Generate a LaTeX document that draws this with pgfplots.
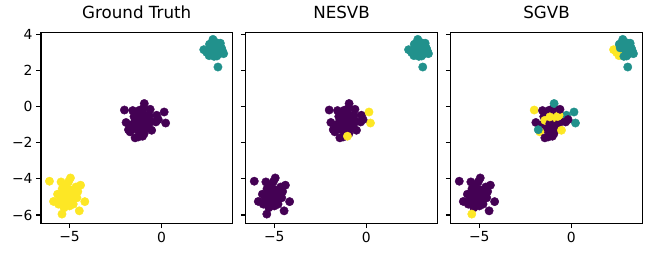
\documentclass[border=0pt]{standalone}
\usepackage{fontspec}
\setmainfont{DejaVu Sans}
\usepackage{pgfplots}
\usepackage{pgfplotstable}
\pgfplotsset{compat=1.18}
\definecolor{vp}{RGB}{68,1,84}
\definecolor{vt}{RGB}{33,145,140}
\definecolor{vy}{RGB}{253,231,37}

\pgfplotstableread{
x y g n s
-5.35 -4.95 y p p
-5.15 -4.65 y p p
-4.85 -4.75 y p p
-5.45 -5.35 y p p
-5.15 -5.45 y p p
-4.70 -4.60 y p p
-6.09 -4.13 y p p
-5.46 -4.17 y p p
-4.95 -3.95 y p p
-4.40 -4.35 y p p
-4.17 -5.26 y p p
-4.47 -5.77 y p p
-5.87 -5.25 y p p
-5.05 -4.15 y p p
-4.55 -4.70 y p p
-4.65 -4.45 y p p
-4.75 -4.90 y p p
-5.30 -4.70 y p p
-5.50 -5.00 y p p
-5.20 -5.30 y p p
-4.90 -5.10 y p p
-5.60 -5.40 y p p
-5.00 -5.50 y p p
-5.30 -5.60 y p p
-4.80 -5.40 y p p
-5.40 -4.55 y p p
-5.65 -4.85 y p p
-5.10 -4.85 y p p
-4.60 -5.05 y p p
-5.25 -5.10 y p p
-5.50 -5.20 y p p
-5.00 -5.25 y p p
-5.20 -4.40 y p p
-4.95 -4.60 y p p
-5.41 -5.95 y p y
2.79 3.72 t t t
3.19 3.51 t t t
3.06 2.19 t t t
2.90 3.30 t t t
3.10 3.10 t t t
2.95 3.55 t t t
3.25 3.25 t t t
2.85 3.05 t t t
2.70 3.50 t t t
3.05 3.40 t t t
2.80 3.20 t t t
2.95 2.95 t t t
3.15 3.35 t t t
2.85 3.45 t t t
2.29 3.15 t t y
2.45 3.00 t t y
2.58 2.82 t t y
2.65 3.25 t t t
2.60 3.45 t t t
3.37 2.93 t t t
3.20 2.95 t t t
3.30 3.10 t t t
3.00 2.80 t t t
2.85 2.78 t t t
-1.25 -0.75 p p p
-0.85 -0.70 p p p
-1.40 -1.25 p p p
-1.00 -1.30 p p p
-0.70 -1.00 p p p
-1.20 -0.20 p p p
-1.30 -1.10 p p p
-0.90 -0.90 p p p
-1.00 -0.40 p p p
-0.80 -1.20 p p p
-1.60 -1.00 p p p
-1.20 -1.40 p p p
-0.60 -0.80 p p p
-1.35 -0.35 p p p
-1.10 -1.15 p p p
-0.95 -1.50 p p p
-1.50 -0.55 p p p
-0.75 -0.55 p p y
-1.05 -0.65 p p y
-1.44 -0.76 p p y
-1.17 -0.94 p p p
-1.17 -0.57 p p y
-0.99 -0.11 p p p
-0.27 -0.48 p p t
-0.67 -0.48 p p y
-1.71 -1.40 p p y
-2.02 -0.19 p p y
-0.94 0.17 p p t
0.14 -0.30 p y t
0.22 -0.91 p y t
-1.93 -0.88 p p p
-1.80 -1.28 p p t
-1.44 -1.73 p p p
-1.26 -1.68 p p p
-1.03 -1.64 p y p
-0.54 -1.31 p p y
-1.57 -0.22 p p p
-0.62 -0.15 p p p
-0.18 -0.72 p p p
-0.31 -0.85 p p p
}\pts

\pgfplotsset{
  panel/.style={
    scale only axis, width=191.5pt, height=190.6pt,
    anchor=south west,
    xmin=-6.55, xmax=3.85, ymin=-6.46, ymax=4.09,
    xtick={-5,0}, xticklabels={−5,0},
    ytick={-6,-4,-2,0,2,4},
    tick pos=left, tick align=outside,
    major tick length=4.9pt,
    every tick/.style={black, line width=1.1pt},
    axis line style={line width=1.1pt},
    tick label style={font=\fontsize{13.9}{16}\selectfont},
    title style={font=\fontsize{16.7}{20}\selectfont, at={(0.5,1)}, anchor=base, yshift=8.3pt},
  },
  pts/.style={
    scatter, only marks, scatter src=explicit symbolic,
    mark=*, mark size=4.2pt,
    mark options={line width=0.4pt},
    scatter/classes={
      p={draw=vp, fill=vp},
      t={draw=vt, fill=vt},
      y={draw=vy, fill=vy}},
  },
}

\begin{document}
\begin{tikzpicture}
\path[use as bounding box] (0,0) rectangle (651pt,257pt);
\begin{axis}[panel, at={(41pt,33.7pt)}, title={Ground Truth},
  yticklabels={−6,−4,−2,0,2,4}]
\addplot[pts] table[x=x, y=y, meta=g] \pts;
\end{axis}
\begin{axis}[panel, at={(245.8pt,33.7pt)}, title={NESVB}, yticklabels={}]
\addplot[pts] table[x=x, y=y, meta=n] \pts;
\end{axis}
\begin{axis}[panel, at={(450.8pt,33.7pt)}, title={SGVB}, yticklabels={}]
\addplot[pts] table[x=x, y=y, meta=s] \pts;
\end{axis}
\end{tikzpicture}
\end{document}
